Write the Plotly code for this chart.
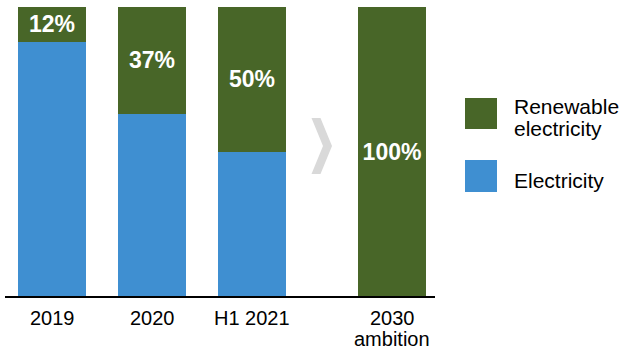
import plotly.graph_objects as go

# Share of renewable electricity in total electricity use
categories = ["2019", "2020", "H1 2021", "2030 ambition"]
renewable = [12, 37, 50, 100]
electricity = [88, 63, 50, 0]

GREEN = "#486628"
BLUE = "#3f8fd1"
FONT = "Liberation Sans, Arial, sans-serif"

# bar positions: evenly spaced, with a wider gap before the target year
xpos = [0, 1, 2, 3.4]

W, H = 621, 349
ML, MR, MT, MB = 5, 186, 7, 53
PW, PH = W - ML - MR, H - MT - MB


def px_x(p):
    return (p - ML) / PW


def px_y(p):
    return (H - MB - p) / PH


fig = go.Figure()
fig.add_trace(go.Bar(
    x=xpos, y=electricity, name="Electricity", marker=dict(color=BLUE, line=dict(width=0)),
    width=0.68, hoverinfo="skip",
))
fig.add_trace(go.Bar(
    x=xpos, y=renewable, name="Renewable electricity",
    marker=dict(color=GREEN, line=dict(width=0)), width=0.68,
    text=[f"{v}%" for v in renewable], textposition="inside", insidetextanchor="middle",
    textfont=dict(color="white", size=23, family=FONT, weight="bold"),
    constraintext="none", hoverinfo="skip",
))

shapes = []
# chevron between the actuals and the target
cx = (xpos[2] + xpos[3]) / 2
sx = 0.01  # data units per pixel along x
sy = 100 / PH
cy = (H - MB - 146) * sy
pts = [(-10.5, 28), (-1.5, 28), (10, 0), (-1.5, -28), (-10.5, -28), (1, 0)]
path = "M " + " L ".join(f"{cx + dx * sx},{cy + dy * sy}" for dx, dy in pts) + " Z"
shapes.append(dict(type="path", path=path, xref="x", yref="y",
                   fillcolor="#d9d9d9", line=dict(width=0), layer="above"))

# legend swatches
shapes.append(dict(type="rect", xref="paper", yref="paper",
                   x0=px_x(465), x1=px_x(497), y0=px_y(129), y1=px_y(98),
                   fillcolor=GREEN, line=dict(width=0)))
shapes.append(dict(type="rect", xref="paper", yref="paper",
                   x0=px_x(465), x1=px_x(497), y0=px_y(192), y1=px_y(160),
                   fillcolor=BLUE, line=dict(width=0)))

annotations = []
legend_lines = [("Renewable", 106), ("electricity", 128), ("Electricity", 180)]
for txt, y in legend_lines:
    annotations.append(dict(text=txt, x=px_x(512), y=px_y(y), xref="paper", yref="paper",
                            xanchor="left", yanchor="middle", showarrow=False,
                            font=dict(size=21, color="#000000", family=FONT)))

# category labels under the axis
for x, cat in zip(xpos, categories):
    lines = cat.split(" ") if cat.endswith("ambition") else [cat]
    for i, line in enumerate(lines):
        annotations.append(dict(text=line, x=x, y=px_y(318 + 21 * i), xref="x", yref="paper",
                                xanchor="center", yanchor="middle", showarrow=False,
                                font=dict(size=20, color="#000000", family=FONT)))

fig.update_layout(
    width=W, height=H, barmode="stack", showlegend=False,
    margin=dict(l=ML, r=MR, t=MT, b=MB),
    plot_bgcolor="white", paper_bgcolor="white",
    xaxis=dict(range=[-0.47, 3.83], showgrid=False, zeroline=False, showticklabels=False,
               showline=True, linecolor="#000000", linewidth=1.5, ticks=""),
    yaxis=dict(range=[0, 100], visible=False),
    shapes=shapes, annotations=annotations,
)

fig.write_html("out.html")
